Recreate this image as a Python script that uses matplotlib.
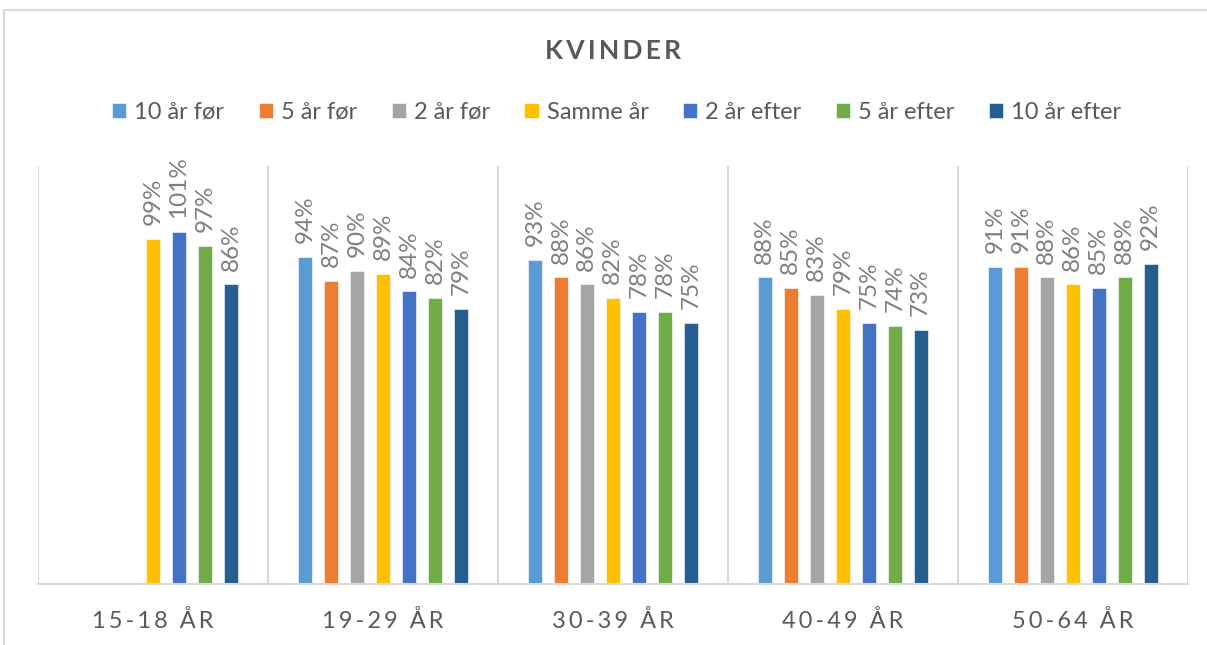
import matplotlib
matplotlib.use("Agg")
import matplotlib.pyplot as plt
import numpy as np
from matplotlib.lines import Line2D

plt.rcParams['font.family'] = ['Lato', 'DejaVu Sans']

# data
categories = ['15-18 ÅR', '19-29 ÅR', '30-39 ÅR', '40-49 ÅR', '50-64 ÅR']
series = ['10 år før', '5 år før', '2 år før', 'Samme år', '2 år efter', '5 år efter', '10 år efter']
values = {
    '10 år før':   [None, 94, 93, 88, 91],
    '5 år før':    [None, 87, 88, 85, 91],
    '2 år før':    [None, 90, 86, 83, 88],
    'Samme år':    [99, 89, 82, 79, 86],
    '2 år efter':  [101, 84, 78, 75, 85],
    '5 år efter':  [97, 82, 78, 74, 88],
    '10 år efter': [86, 79, 75, 73, 92],
}
colors = ['#5B9BD5', '#ED7D31', '#A5A5A5', '#FFC000', '#4472C4', '#70AD47', '#255E91']

fig = plt.figure(figsize=(12.07, 6.45), dpi=100)
ax = fig.add_axes([0.0315, 0.0946, 0.9525, 0.648])

x = np.arange(len(categories))
pitch = 0.113
width = 0.062
handles = []
for i, (name, col) in enumerate(zip(series, colors)):
    pos = x + (i - 3) * pitch
    vals = values[name]
    xs = [p for p, v in zip(pos, vals) if v is not None]
    ys = [v / 100 for v in vals if v is not None]
    b = ax.bar(xs, ys, width=width, color=col, edgecolor='white', linewidth=0.4, label=name)
    handles.append(b)
    for xx, yy in zip(xs, ys):
        ax.annotate('{:.0f}%'.format(yy * 100), (xx, yy), xytext=(0, 10), textcoords='offset points',
                    rotation=90, ha='center', va='bottom', fontsize=17.5, color='#7F7F7F')

ax.set_xlim(-0.5, len(categories) - 0.5)
ax.set_ylim(0, 1.2)
ax.set_yticks([])
for s in ['top', 'right', 'left']:
    ax.spines[s].set_visible(False)
ax.spines['bottom'].set_color('#D9D9D9')
ax.spines['bottom'].set_linewidth(1.5)
# skillelinjer mellem kategorier
for b in np.arange(-0.5, len(categories), 1):
    ax.axvline(b, color='#D9D9D9', linewidth=1.5)

ax.set_xticks(x)
ax.set_xticklabels(['\u2009'.join(c) for c in categories], fontsize=17, color='#595959')
ax.tick_params(axis='x', length=0, pad=19)

fig.text(0.508, 0.921, '\u2009'.join('KVINDER'), ha='center', va='center', fontsize=19,
         fontweight='bold', color='#595959')
fig.legend(handles=handles, labels=series, loc='center', bbox_to_anchor=(0.511, 0.826), ncol=7,
           frameon=False, fontsize=17, labelcolor='#595959', handlelength=0.6, handleheight=0.6,
           handletextpad=0.35, columnspacing=1.45)

# ramme
fig.add_artist(Line2D([4 / 1207, 4 / 1207], [0, 1 - 10 / 645], transform=fig.transFigure, color='#D9D9D9', linewidth=1.5))
fig.add_artist(Line2D([4 / 1207, 1], [1 - 10 / 645, 1 - 10 / 645], transform=fig.transFigure, color='#D9D9D9', linewidth=1.5))

fig.savefig('out.png', dpi=100, facecolor='white')
